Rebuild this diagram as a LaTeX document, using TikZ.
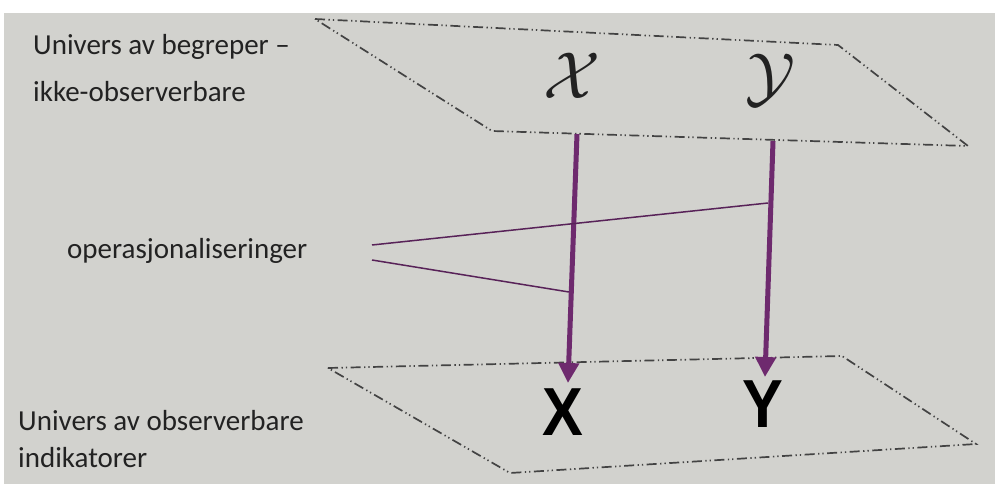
\documentclass[tikz,border=0pt]{standalone}
\usepackage{fontspec}
\setmainfont{Carlito}
\setsansfont{Liberation Sans}
\usetikzlibrary{arrows.meta}
\definecolor{paper}{HTML}{D2D2CE}
\definecolor{plum}{HTML}{6E2A6E}
\definecolor{ink}{HTML}{222222}
\tikzset{
  x=1pt,y=-1pt,
  plane/.style={draw=ink!85,line width=1.7pt,dash pattern=on 10pt off 3.5pt on 1.3pt off 3pt on 1.3pt off 3.5pt},
  lbl/.style={anchor=base west,inner sep=0pt,text=ink,font=\fontsize{29}{32}\selectfont},
  mainarrow/.style={draw=plum,line width=5pt,-{Triangle[length=20pt,width=20pt]}},
  opline/.style={draw=plum!80!black,line width=1.5pt},
  cal/.style={inner sep=0pt,text=ink,font=\fontsize{20}{20}\selectfont,scale=3.2},
  obs/.style={inner sep=0pt,text=black,font=\sffamily\bfseries\fontsize{68}{68}\selectfont,xscale=0.9}
}
\begin{document}
\begin{tikzpicture}
\useasboundingbox (0,0) rectangle (995,484);
\fill[white] (0,0) rectangle (995,484);
\fill[paper] (4,13) rectangle (995,484);
% planes
\coordinate (a1) at (315,19); \coordinate (a2) at (838,45);
\coordinate (a3) at (968,146); \coordinate (a4) at (492,131);
\draw[plane] (a1) -- (a2) -- (a3) -- (a4) -- cycle;
\coordinate (b1) at (328,368); \coordinate (b2) at (842,356);
\coordinate (b3) at (976,444); \coordinate (b4) at (510,473);
\draw[plane] (b1) -- (b2) -- (b3) -- (b4) -- cycle;
% labels
\node[lbl] (l1) at (33,55) {Univers av begreper –};
\node[lbl] (l2) at (33,102) {ikke-observerbare};
\node[lbl] (l3) at (67,258) {operasjonaliseringer};
\node[lbl] (l4) at (18,430) {Univers av observerbare};
\node[lbl] (l5) at (18,467) {indikatorer};
% concept letters
\node[cal] (cx) at (572,76) {$\mathcal{X}$};
\node[cal] (cy) at (770,80) {$\mathcal{Y}$};
% observed letters
\node[obs] (ox) at (563,412) {X};
\node[obs] (oy) at (763,404) {Y};
% arrows
\coordinate (xs) at (577,134); \coordinate (xe) at (568,383);
\coordinate (ys) at (773,141); \coordinate (ye) at (765,377);
\draw[mainarrow] (xs) -- (xe);
\draw[mainarrow] (ys) -- (ye);
% operationalisation lines
\coordinate (p1) at (372,245); \coordinate (q1) at (768,203);
\coordinate (p2) at (372,260); \coordinate (q2) at (569,292);
\draw[opline] (p1) -- (q1);
\draw[opline] (p2) -- (q2);
\end{tikzpicture}
\end{document}
